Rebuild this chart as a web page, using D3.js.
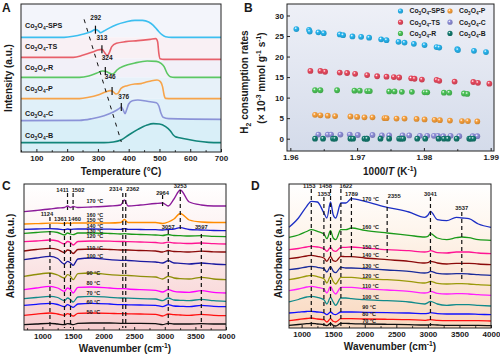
<!DOCTYPE html>
<html><head><meta charset="utf-8">
<script src="https://cdn.jsdelivr.net/npm/d3@7"></script>
<style>
body{margin:0;background:#fff}
svg{display:block}
text{font-family:"Liberation Sans",Arial,sans-serif;font-weight:bold;fill:#1a1a1a}
</style>
</head><body>
<svg id="c" width="500" height="357"></svg>
<script>
// ---------------- Panel A : H2-TPR ----------------
const tprNames = ["SPS","TS","R","P","C","B"];
const tprT_SPS = [50,190,220,250,275,292,302,308,318,335,360,390,420,445,465,480,495,508,520,540,700];
const tprI_SPS = [344,344,347,353,360,367,363,358,362,371,382,390,395,395,390,380,364,352,346,344,344];
const tprT_TS  = [50,220,250,280,300,313,322,330,336,345,360,390,430,470,488,494,498,502,515,700];
const tprI_TS  = [284,284,290,299,306,308,298,289,296,316,326,331,334,338,340,331,296,280,278,278];
const tprT_R   = [50,240,270,295,315,324,335,345,352,362,385,420,460,490,505,515,525,535,550,700];
const tprI_R   = [224,224,228,236,243,242,238,234,236,246,258,267,273,272,266,256,236,226,224,224];
const tprT_P   = [50,240,270,300,325,340,348,358,365,375,395,420,440,455,475,492,503,510,515,520,540,700];
const tprI_P   = [160,160,164,171,180,184,182,174,176,191,199,204,205,209,214,216,211,196,171,161,160,160];
const tprT_C   = [50,240,280,320,350,370,376,382,388,393,400,412,430,460,490,498,505,512,530,700];
const tprI_C   = [94,95,100,109,120,131,135,126,115,126,144,154,156,152,148,138,116,104,100,98];
const tprT_B   = [50,320,350,375,400,430,460,480,500,520,535,545,552,565,590,620,660,700];
const tprI_B   = [28,28,30,36,51,68,81,85,84,76,64,51,46,43,38,33,29,28];
const tprPeakT = [292,313,324,346,376];
const tprPeakI = [367,308,243,183,135];
const tprPeakLabelT = [293,313,330,340,384];
const tprPeakLabelI = [401,341,281,224,164];
const tprDashT = [255,376];
const tprDashI = [398,30];
const tprTicks = [100,200,300,400,500,600,700];

// ---------------- Panel B : consumption rates ----------------
const rateX_SPS=[1.9609,1.9628,1.9629,1.9642,1.9650,1.9674,1.9679,1.9693,1.9706,1.9718,1.9736,1.9744,1.9762,1.9771,1.9785,1.9801,1.9819,1.9823,1.9850,1.9851,1.9875,1.9893];
const rateY_SPS=[26.7,26.5,26.1,25.9,25.7,25.4,25.2,24.9,24.8,24.6,24.2,24.0,23.6,23.4,23.1,22.8,22.3,22.2,21.8,21.6,21.4,21.1];
const rateX_TS=[1.9630,1.9645,1.9652,1.9674,1.9685,1.9697,1.9715,1.9730,1.9744,1.9755,1.9763,1.9781,1.9786,1.9797,1.9819,1.9823,1.9846,1.9874,1.9881,1.9898];
const rateY_TS=[16.5,16.5,16.3,16.1,16.0,15.8,15.5,15.2,15.1,15.0,14.9,14.7,14.6,14.4,14.3,14.1,13.9,13.8,13.6,13.4];
const rateX_R=[1.9637,1.9645,1.9670,1.9696,1.9704,1.9715,1.9719,1.9748,1.9756,1.9767,1.9782,1.9801,1.9805,1.9830,1.9838,1.9860,1.9865];
const rateY_R=[11.8,11.8,11.8,11.7,11.7,11.6,11.6,11.5,11.5,11.4,11.4,11.3,11.3,11.2,11.2,11.0,10.9];
const rateX_P=[1.9637,1.9645,1.9656,1.9667,1.9690,1.9700,1.9711,1.9723,1.9741,1.9744,1.9759,1.9771,1.9789,1.9801,1.9816,1.9824,1.9839,1.9857,1.9866,1.9880];
const rateY_P=[5.8,5.7,5.6,5.5,5.4,5.3,5.2,5.2,5.0,5.0,4.9,4.9,4.8,4.7,4.6,4.5,4.4,4.3,4.3,4.2];
const rateX_C=[1.9642,1.9656,1.9661,1.9675,1.9689,1.9701,1.9723,1.9737,1.9748,1.9768,1.9778,1.9794,1.9805,1.9815,1.9821,1.9829,1.9840,1.9853,1.9873,1.9880];
const rateY_C=[1.0,1.0,1.0,1.0,1.0,0.9,0.9,0.8,0.8,0.8,0.8,0.7,0.7,0.7,0.7,0.6,0.7,0.6,0.6,0.6];
const rateX_B=[1.9637,1.9649,1.9664,1.9667,1.9690,1.9694,1.9711,1.9714,1.9715,1.9735,1.9748,1.9763,1.9766,1.9769,1.9790,1.9802,1.9822,1.9830,1.9836,1.9849,1.9868,1.9870,1.9874];
const rateY_B=[0,0,0,0,0,0,0,0,0,0,0,0,0,0,0,0,0,0,0,0,0,0,0];
const rateXTicks=[1.96,1.97,1.98,1.99];
const rateYTicks=[0,5,10,15,20,25,30];
const legendOrder=["SPS","P","TS","C","R","B"];

// ---------------- Panel C : DRIFTS (Co3O4-SPS) ----------------
const wnC=[700,900,1124,1250,1361,1411,1460,1502,1580,1800,2100,2280,2340,2400,2600,2850,2964,3057,3150,3253,3400,3597,3800,4000];
const tempsC=[170,160,150,140,130,120,110,100,90,80,70,60,50];
const absC170=[118.3,119.5,121,122,122.5,124,122.5,123.5,122.5,123,124,125,130,124,125,126.5,127,124,131,140,128,125,124,124];
const absC160=[106,106.3,106.8,106.8,106.5,107,106.5,107,107,107,107,107.5,110.5,107.5,107.5,107.5,106.5,108,111,116.5,110,108,107.5,107.5];
const absC150=[100.7,101,101.3,101,100.3,101,100.5,100.8,101,101,100.8,100.7,101.3,100.7,100.5,100.3,100,100.5,101,102.3,100.5,100,99.5,99.3];
const absC140=[96.7,97.5,98.3,97.5,95,97,96,95.3,97,97,96.5,96,96.3,96,95.5,95,94.5,95.5,94.5,94.3,94,94.3,93.7,93.3];
const absC130=[88.3,89,90,89,86,88.5,87.5,85,88.5,89,88.8,88.5,88.5,88.3,88,87.5,86.8,87.8,87,86.8,86.5,87,86.3,86];
const absC120=[79,80.5,81.7,80.5,77.5,80,79,76.5,80.5,81,80.5,80,80,80,79.5,79,78,79.5,78.5,78.3,78,78.8,78.2,78];
const absC110=[70.3,72,73.7,71.5,66,68.7,67,64.7,71,72,70.3,69.7,69.7,69.5,68.7,68,67,69.3,67,66.7,66,67,66,65.3];
const absC100=[53.7,55.5,57,55,52,55.3,53.7,50.3,56.3,57,55.3,54.7,54.7,54.5,53.7,53,51,53.7,52,51.3,51,52.7,51,50.3];
const absC90=[40.3,42,43.7,42,38.7,42,40.3,37,42.7,43,42,41.3,41.3,41,40.3,39.7,38,40.3,38.7,38,37.7,39.3,37.7,37];
const absC80=[31.3,32.5,33.7,32.5,29.3,32,30.3,28,33,33.7,32.7,32,32,31.8,31.3,31,29.3,32,30,29.7,29.3,30.7,29.3,28.7];
const absC70=[24.7,25.7,26.7,25.5,23.3,25.3,24,22.7,26,26.7,26,25.3,25.3,25.2,25,24.7,23.3,25.3,24,23.7,23.3,24.7,23.7,23.3];
const absC60=[14.7,15.8,17,16,14.7,16.3,15.3,14,16.7,17,16.7,16.3,16.3,16.2,16,15.7,14,16,15.3,15,14.7,15.7,14.7,14.3];
const absC50=[5.3,6,6.7,6,5.3,6.3,6,5.3,6.7,7,7,6.7,6.7,6.7,6.7,6.3,5.3,6.7,6,6,6,6.3,6,6];
const labelCTempV=[128,114.5,109,103.5,98,93,81.3,73,56,46,36,27.7,17];
const peaksC=[1124,1361,1460,1411,1502,2314,2362,2964,3253,3057,3597];
const peakCLabelV=[116,110.7,110.7,139.3,139.3,140.7,140.7,136.7,143.3,102.7,102.7];
const peakCDashTop=[113,108,108,137,137,137,137,135,140,100,96];
const peakCDashBot=[2,2,2,120,120,2,2,122,98,2,2];

// ---------------- Panel D : DRIFTS (Co3O4-B) ----------------
const wnD=[800,950,1080,1153,1250,1353,1400,1458,1500,1540,1622,1700,1789,2000,2355,2700,2950,3000,3041,3150,3300,3450,3537,3650,3800,4000];
const tempsD=[170,160,150,140,130,120,110,100,90,80,70];
const absD170=[99.7,109,120.7,125.7,125,114,109,125,112.3,109,124,124,128.3,125.7,119.7,115,109.7,111.7,115.7,107.3,106.3,109.7,109,108.3,103,99.7];
const absD160=[89.7,92,95.5,97.3,95.7,93,88.3,96.3,89,87.3,97.3,97.3,99,96.7,94,91.7,90,90.7,93.3,89,87.3,89.3,90,89.3,87.3,86.7];
const absD150=[77.3,78.5,80,80.7,80,78.3,75.7,79.7,76.3,75.7,79.7,79.7,80,79,77.3,76.3,75,75.3,76.3,74.3,74,75,75,75,74,73.3];
const absD140=[68.3,69.5,71,71.7,70.7,69,65.7,70.7,66.3,65.7,70.7,70.3,70.3,69,67.3,65.7,64,64.3,65.7,64,63,63.7,63.7,63.7,63,62.3];
const absD130=[57.3,58.5,60,60.7,59.7,58.3,55,60.3,55.7,54.3,59.7,59,59,58.3,57,55.7,54,54.3,55.7,53.7,53,53.3,53.3,53,52.3,51.7];
const absD120=[47.3,49,51,51.7,50.3,48.3,44,50.7,45.7,43,49.7,49.7,49.7,48.3,47.3,45.7,44,44.7,45.7,43.7,43,43.3,43.3,43,42.3,41.7];
const absD110=[36.3,38,40,40.7,39.7,38,34,40.7,35.7,33,39.7,39.7,39.7,38.3,37,35.7,34,34.3,35.7,33.7,33,33.3,33.3,33,32.3,31.7];
const absD100=[25,27.5,30,30.7,29.7,27.3,23,29.7,25,21.7,29,29,28.3,27.3,26.3,25,23,24.3,25.7,23,21.7,22.3,22.3,22.3,21.7,21];
const absD90=[14,14.8,15.5,15.7,15,14,12.3,15,13,12.3,15,15,15,14.7,14.3,14,13.3,13.7,14.3,13.3,13,13,13,13,12.7,12.3];
const absD80=[6.3,7.5,8.5,9,8,7.3,5,8.3,5.7,5,8.3,8.3,8.3,8,7.7,7.3,6.7,7,7.3,6.7,6.3,6.3,6.3,6.3,6.3,6];
const absD70=[1.7,2.5,3.3,3.7,3,2.3,1.3,3.7,1.7,1,3.7,3.7,3.3,3,2.7,2.3,2,2,2.3,2,1.7,1.7,1.7,1.7,1.7,1.3];
const labelDTempV=[127.3,99.7,79,71.7,60.7,50,40.7,29.7,19,12.3,5];
const peaksD=[1153,1353,1458,1622,1789,2355,3041,3537];
const peakDLabelV=[140.7,133,140.7,140.7,133,131,133,118.3];
const peakDDashTop=[138,130,138,138,130,127,130,115];
const peakDDashBot=[1,1,1,1,70,70,1,45];
const wnTicks=[1000,1500,2000,2500,3000,3500,4000];

// ================= styles =================
const tprColors={SPS:"#3cbff0",TS:"#e8606a",R:"#5cc763",P:"#f7a44a",C:"#8b93d8",B:"#12857a"};
const bandColors=["#f3f5fb","#f9f0f4","#f2f0f8","#e7f1f9","#e0f0f9","#d9eff8"];
const rateColors={SPS:"#27b4ee",TS:"#e84a5f",R:"#4cc458",P:"#f8a03c",C:"#8e8ed8",B:"#127a6e"};
const colC=["#8b1a9a","#ff8c00","#1a1ad0","#1a9a1a","#ff1493","#8b0a0a","#1a1aa0","#8f8f0a","#ff00ff","#108a8a","#1010ff","#ff1010","#101010"];
const colD=["#1c2fc4","#1a9a1a","#ff1493","#8b0a0a","#1a2a9a","#9a9a0a","#ff20ff","#108a8a","#1010ff","#ff1010","#101010"];
const peakCLabelDx=[-3,-4,4,-5,5,-7,7,0,0,0,0];
const peakDLabelDx=[-2,0,-5,5,0,7,0,0];

const svg=d3.select("#c");
const defs=svg.append("defs");
function vgrad(id,stops){const g=defs.append("linearGradient").attr("id",id).attr("x1",0).attr("y1",0).attr("x2",0).attr("y2",1);
  stops.forEach(s=>g.append("stop").attr("offset",s[0]).attr("stop-color",s[1]));}
function rich(t,parts,fs){let shift=0;
  parts.forEach(([s,k])=>{const target=k==="sub"?fs*0.3:k==="sup"?-fs*0.4:0;
    const ts=t.append("tspan").text(s).attr("dy",target-shift);shift=target;
    if(k==="sub"||k==="sup")ts.attr("font-size",fs*0.68);
    if(k==="i")ts.attr("font-style","italic");});}
function label(x,y,parts,fs,opts={}){const t=svg.append("text").attr("x",x).attr("y",y).attr("font-size",fs)
  .attr("text-anchor",opts.anchor||"middle");
  if(opts.rot)t.attr("transform",`rotate(-90,${x},${y})`);
  rich(t,parts,fs);return t;}
function frame(x0,y0,x1,y1){svg.append("rect").attr("x",x0).attr("y",y0).attr("width",x1-x0).attr("height",y1-y0)
  .attr("fill","none").attr("stroke","#222").attr("stroke-width",1);}
function styleAxis(g){g.select(".domain").remove();g.attr("font-size",8).attr("font-family",null);
  g.selectAll("line").attr("stroke","#222");g.selectAll("text").attr("fill","#1a1a1a");}
function xAxis(scale,y,ticks,minor,fmt){
  const g=svg.append("g").attr("transform",`translate(0,${y})`)
    .call(d3.axisBottom(scale).tickValues(ticks).tickSize(-3).tickPadding(3).tickFormat(fmt));styleAxis(g);
  if(minor){const m=svg.append("g").attr("transform",`translate(0,${y})`)
    .call(d3.axisBottom(scale).tickValues(minor).tickSize(-1.8).tickFormat(""));styleAxis(m);}
}
const co=(s)=>[["Co","n"],["3","sub"],["O","n"],["4","sub"],["-"+s,"n"]];

// ================= Panel A =================
const xA=d3.scaleLinear().domain([50,700]).range([21,221]);
const yA=d3.scaleLinear().domain([0,444]).range([152,4]);
const tprSeries={SPS:[tprT_SPS,tprI_SPS],TS:[tprT_TS,tprI_TS],R:[tprT_R,tprI_R],P:[tprT_P,tprI_P],C:[tprT_C,tprI_C],B:[tprT_B,tprI_B]};
const bases=tprNames.map(n=>{const I=tprSeries[n][1];return (I[0]+I[I.length-1])/2;});
const edges=[444].concat(bases.slice(0,5)).concat([0]);
bandColors.forEach((c,i)=>{svg.append("rect").attr("x",xA(50)).attr("width",xA(700)-xA(50))
  .attr("y",yA(edges[i])).attr("height",yA(edges[i+1])-yA(edges[i])).attr("fill",c);});
const lineA=d3.line().x(d=>xA(d[0])).y(d=>yA(d[1])).curve(d3.curveMonotoneX);
tprNames.forEach(n=>{const [T,I]=tprSeries[n];
  svg.append("path").datum(T.map((t,i)=>[t,I[i]])).attr("d",lineA).attr("fill","none")
    .attr("stroke",tprColors[n]).attr("stroke-width",1.6);});
svg.append("line").attr("x1",xA(tprDashT[0])).attr("y1",yA(tprDashI[0])).attr("x2",xA(tprDashT[1])).attr("y2",yA(tprDashI[1]))
  .attr("stroke","#111").attr("stroke-width",1).attr("stroke-dasharray","4,5");
tprPeakT.forEach((t,i)=>{svg.append("line").attr("x1",xA(t)).attr("x2",xA(t)).attr("y1",yA(tprPeakI[i]+12)).attr("y2",yA(tprPeakI[i]-12))
  .attr("stroke","#111").attr("stroke-width",1.2);
  svg.append("text").attr("x",xA(tprPeakLabelT[i])).attr("y",yA(tprPeakLabelI[i])).attr("font-size",6.5).attr("text-anchor","middle")
    .attr("dominant-baseline","middle").text(t);});
const labYA=[25,46,67,88.5,113,135];
tprNames.forEach((n,i)=>{const t=svg.append("text").attr("x",25).attr("y",labYA[i]+2.5).attr("font-size",7.2);rich(t,co(n),7.2);});
frame(21,4,221,152);
xAxis(xA,152,tprTicks,[50,150,250,350,450,550,650],d3.format("d"));
label(121,175,[["Temperature (","n"],["°C","n"],[")","n"]],10);
label(12,78,[["Intensity (a.u.)","n"]],10,{rot:true});
label(2,12,[["A","n"]],12,{anchor:"start"});

// ================= Panel B =================
vgrad("bgB",[[0,"#eef0f7"],[1,"#d4dbea"]]);
const xB=d3.scaleLinear().domain([1.9595,1.9905]).range([287,494]);
const yB=d3.scaleLinear().domain([-3,32.8]).range([151,4]);
svg.append("rect").attr("x",287).attr("y",4).attr("width",207).attr("height",147).attr("fill","url(#bgB)");
Object.keys(rateColors).forEach(n=>{const g=defs.append("radialGradient").attr("id","rg"+n).attr("cx","38%").attr("cy","35%").attr("r","65%");
  g.append("stop").attr("offset",0).attr("stop-color","#ffffff").attr("stop-opacity",0.9);
  g.append("stop").attr("offset",0.35).attr("stop-color",rateColors[n]);
  g.append("stop").attr("offset",1).attr("stop-color",d3.color(rateColors[n]).darker(0.5));});
const rateSeries={SPS:[rateX_SPS,rateY_SPS],TS:[rateX_TS,rateY_TS],R:[rateX_R,rateY_R],P:[rateX_P,rateY_P],C:[rateX_C,rateY_C],B:[rateX_B,rateY_B]};
Object.keys(rateSeries).forEach(n=>{const [X,Y]=rateSeries[n];
  svg.append("g").selectAll("circle").data(X.map((x,i)=>[x,Y[i]])).join("circle")
    .attr("cx",d=>xB(d[0])).attr("cy",d=>yB(d[1])).attr("r",2.9).attr("fill",`url(#rg${n})`);});
legendOrder.forEach((n,i)=>{const col=i%2,row=Math.floor(i/2);
  const mx=col?450:400.5,my=11+row*11.2;
  svg.append("circle").attr("cx",mx).attr("cy",my).attr("r",2.6).attr("fill",`url(#rg${n})`);
  const t=svg.append("text").attr("x",mx+9).attr("y",my+2.3).attr("font-size",6.8);rich(t,co(n),6.8);});
frame(287,4,494,151);
xAxis(xB,151,rateXTicks,[1.965,1.975,1.985],d3.format(".2f"));
const gy=svg.append("g").attr("transform","translate(287,0)").call(d3.axisLeft(yB).tickValues(rateYTicks).tickSize(-3).tickPadding(3));styleAxis(gy);
label(390,175,[["1000/","n"],["T","i"],[" (K","n"],["-1","sup"],[")","n"]],10);
label(248,82,[["H","n"],["2","sub"],[" consumption rates","n"]],10,{rot:true});
label(265,78,[["(× 10","n"],["-3","sup"],[" mmol g","n"],["-1","sup"],[" s","n"],["-1","sup"],[")","n"]],10,{rot:true});
label(244,12,[["B","n"]],12,{anchor:"start"});

// ================= Panels C, D =================
function spectra(id,x0,x1,yTop,yBot,domX,domY,grid,temps,arrs,cols,labV,labWn,peaks,pLabV,pTop,pBot,pDx,bg){
  vgrad(id,bg);
  const x=d3.scaleLinear().domain(domX).range([x0,x1]);
  const y=d3.scaleLinear().domain(domY).range([yBot,yTop]);
  svg.append("rect").attr("x",x0).attr("y",yTop).attr("width",x1-x0).attr("height",yBot-yTop).attr("fill",`url(#${id})`);
  const ln=d3.line().x(d=>x(d[0])).y(d=>y(d[1])).curve(d3.curveMonotoneX);
  arrs.forEach((a,i)=>{svg.append("path").datum(grid.map((w,j)=>[w,a[j]])).attr("d",ln).attr("fill","none")
    .attr("stroke",cols[i]).attr("stroke-width",1.3);});
  peaks.forEach((p,i)=>{svg.append("line").attr("x1",x(p)).attr("x2",x(p)).attr("y1",y(pTop[i])).attr("y2",y(pBot[i]))
      .attr("stroke","#111").attr("stroke-width",1.2).attr("stroke-dasharray","4,3");
    svg.append("text").attr("x",x(p)+pDx[i]).attr("y",y(pLabV[i])).attr("font-size",5.8).attr("text-anchor","middle")
      .attr("dominant-baseline","middle").text(p);});
  temps.forEach((t,i)=>{svg.append("text").attr("x",x(labWn)).attr("y",y(labV[i])).attr("font-size",5.5)
      .attr("dominant-baseline","middle").text(t+" °C");});
  frame(x0,yTop,x1,yBot);
  xAxis(x,yBot,wnTicks,[750,1250,1750,2250,2750,3250,3750].filter(v=>v>=domX[0]),d3.format("d"));
}
spectra("bgC",24,226,184,330,[700,4000],[0,146],wnC,tempsC,
  [absC170,absC160,absC150,absC140,absC130,absC120,absC110,absC100,absC90,absC80,absC70,absC60,absC50],
  colC,labelCTempV,1720,peaksC,peakCLabelV,peakCDashTop,peakCDashBot,peakCLabelDx,[[0,"#ffffff"],[0.3,"#fdf3f3"],[1,"#f7cdce"]]);
label(125,352,[["Wavenumber (cm","n"],["-1","sup"],[")","n"]],10);
label(14,256,[["Absorbance (a.u.)","n"]],10,{rot:true});
label(2,190,[["C","n"]],12,{anchor:"start"});

spectra("bgD",289,491,184,328,[800,4000],[-1,143],wnD,tempsD,
  [absD170,absD160,absD150,absD140,absD130,absD120,absD110,absD100,absD90,absD80,absD70],
  colD,labelDTempV,1960,peaksD,peakDLabelV,peakDDashTop,peakDDashBot,peakDLabelDx,[[0,"#ffffff"],[0.3,"#fef6ee"],[1,"#f9d8bf"]]);
label(390,350,[["Wavenumber (cm","n"],["-1","sup"],[")","n"]],10);
label(282,256,[["Absorbance (a.u.)","n"]],10,{rot:true});
label(251,190,[["D","n"]],12,{anchor:"start"});
</script>
</body></html>
